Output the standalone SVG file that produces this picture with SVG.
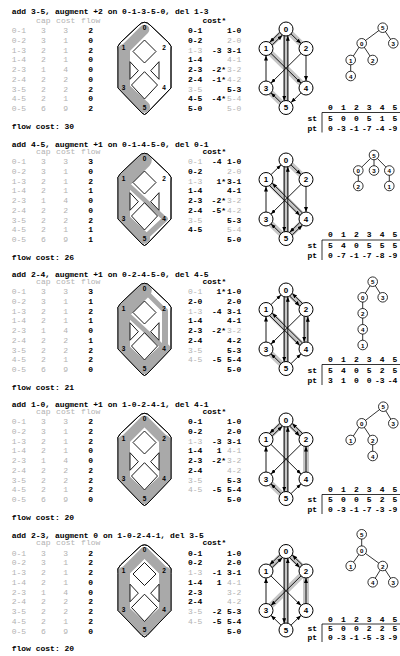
<svg xmlns="http://www.w3.org/2000/svg" xmlns:xlink="http://www.w3.org/1999/xlink" width="400" height="656" viewBox="0 0 400 656">
<style>
text{font-family:"Liberation Mono","Courier New",monospace;font-size:8px;font-weight:bold;fill:#000}
.g{fill:#b2b2b2;font-weight:normal}
.m{text-anchor:middle}
.e{text-anchor:end}
.nl{font-family:"Liberation Sans",Arial,sans-serif;font-weight:bold;text-anchor:middle;dominant-baseline:central}
.gn circle{fill:#fff;stroke:#000;stroke-width:1}
.gn text{font-size:8px}
.tn circle{fill:#fff;stroke:#000;stroke-width:.8}
.tn text{font-size:6.2px}
.hl{font-size:6.5px}
.ar{stroke:#000;stroke-width:.9;fill:none;marker-end:url(#ah)}
.tr{stroke:#c6c6c6;stroke-width:6}
.fl{stroke:#a9a9a9;fill:none;stroke-linecap:round}
.te{stroke:#000;stroke-width:.8}
.ln{stroke:#000;stroke-width:.8;fill:none}
.ho{fill:#fff;stroke:#000;stroke-width:.9}
.hn{fill:none;stroke:#000;stroke-width:.9}
</style>
<defs>
<marker id="ah" markerUnits="userSpaceOnUse" markerWidth="5" markerHeight="4" refX="5" refY="2" orient="auto"><path d="M0,0L5,2L0,4z" fill="#000"/></marker>
<path id="hexOuter" d="M144.5,23.3Q147.5,23.3 150,26L168.5,43.5Q172.5,47 171,52L171,89L147,114Q144.5,117 142,114L118,89L118,52Q116.5,47 120.5,43.5L139,26Q141.5,23.3 144.5,23.3Z"/>
<clipPath id="hexClip"><use href="#hexOuter"/></clipPath>
<path id="hexHoles" d="M144.5,41L156,52.5L144.5,64L133,52.5ZM130,62.7L138.3,71.7L130,80.3ZM159,62.7L150.7,71.7L159,80.3ZM144.5,72.7L157.5,86L144.5,100L131.5,86Z"/>
<g id="hexLabels">
<text class="nl hl" x="144.5" y="28.3">0</text><text class="nl hl" x="123.5" y="48.7">1</text><text class="nl hl" x="164" y="48.7">2</text><text class="nl hl" x="123.5" y="88.3">3</text><text class="nl hl" x="164" y="88.3">4</text><text class="nl hl" x="144.5" y="108.3">5</text>
</g>
<g id="tableFixed">
<text class="g m" x="43.3" y="23.7">cap</text><text class="g m" x="65.7" y="23.7">cost</text><text class="g m" x="90.7" y="23.7">flow</text>
<text class="g" x="11.7" y="34.2">0-1</text><text class="g m" x="43.3" y="34.2">3</text><text class="g m" x="65.7" y="34.2">3</text>
<text class="g" x="11.7" y="43.95">0-2</text><text class="g m" x="43.3" y="43.95">3</text><text class="g m" x="65.7" y="43.95">1</text>
<text class="g" x="11.7" y="53.7">1-3</text><text class="g m" x="43.3" y="53.7">2</text><text class="g m" x="65.7" y="53.7">1</text>
<text class="g" x="11.7" y="63.45">1-4</text><text class="g m" x="43.3" y="63.45">2</text><text class="g m" x="65.7" y="63.45">1</text>
<text class="g" x="11.7" y="73.2">2-3</text><text class="g m" x="43.3" y="73.2">1</text><text class="g m" x="65.7" y="73.2">4</text>
<text class="g" x="11.7" y="82.95">2-4</text><text class="g m" x="43.3" y="82.95">2</text><text class="g m" x="65.7" y="82.95">2</text>
<text class="g" x="11.7" y="92.7">3-5</text><text class="g m" x="43.3" y="92.7">2</text><text class="g m" x="65.7" y="92.7">2</text>
<text class="g" x="11.7" y="102.45">4-5</text><text class="g m" x="43.3" y="102.45">2</text><text class="g m" x="65.7" y="102.45">1</text>
<text class="g" x="11.7" y="112.2">0-5</text><text class="g m" x="43.3" y="112.2">6</text><text class="g m" x="65.7" y="112.2">9</text>
<text x="202.4" y="23.7">cost*</text>
</g>
</defs>

<!-- ================= PANEL 1 ================= -->
<g id="p1" transform="translate(0,-1)">
<text x="11.7" y="15.2">add 3-5, augment +2 on 0-1-3-5-0, del 1-3</text>
<use href="#tableFixed"/>
<text class="m" x="90.7" y="34.2">2</text><text class="m" x="90.7" y="43.95">0</text><text class="m" x="90.7" y="53.7">2</text><text class="m" x="90.7" y="63.45">0</text><text class="m" x="90.7" y="73.2">0</text><text class="m" x="90.7" y="82.95">0</text><text class="m" x="90.7" y="92.7">2</text><text class="m" x="90.7" y="102.45">0</text><text class="m" x="90.7" y="112.2">2</text>
<text x="11.7" y="129.7">flow cost: 30</text>
<g id="p1-pipes">
<use href="#hexOuter" class="ho"/>
<g clip-path="url(#hexClip)">
<path class="fl" stroke-width="9.7" d="M144.5,30.5L124,51"/>
<path class="fl" stroke-width="12" d="M124,51L124,89"/>
<path class="fl" stroke-width="11.3" d="M124,89L144.5,108"/>
</g>
<use href="#hexHoles" class="ho"/><use href="#hexOuter" class="hn"/><use href="#hexLabels"/>
</g>
<text x="188" y="34.2">0-1</text><text x="227" y="34.2">1-0</text>
<text x="188" y="43.95">0-2</text><text class="g" x="227" y="43.95">2-0</text>
<text class="g" x="188" y="53.7">1-3</text><text class="e" x="221.6" y="53.7">-3</text><text x="227" y="53.7">3-1</text>
<text x="188" y="63.45">1-4</text><text class="g" x="227" y="63.45">4-1</text>
<text x="188" y="73.2">2-3</text><text class="e" x="226" y="73.2">-2*</text><text class="g" x="227" y="73.2">3-2</text>
<text x="188" y="82.95">2-4</text><text class="e" x="226" y="82.95">-1*</text><text class="g" x="227" y="82.95">4-2</text>
<text class="g" x="188" y="92.7">3-5</text><text x="227" y="92.7">5-3</text>
<text x="188" y="102.45">4-5</text><text class="e" x="226" y="102.45">-4*</text><text class="g" x="227" y="102.45">5-4</text>
<text x="188" y="112.2">5-0</text><text class="g" x="227" y="112.2">5-0</text>
<g id="p1-arcs">
<path class="tr" d="M286,30V108.5M286,30L266,49.5M286,30L306,49.5M266,89L286,108.5M266,49.5L306,89"/>
<path class="ar" d="M279.73,33.6L269.75,43.32"/><path class="ar" d="M272.27,45.9L282.25,36.18"/>
<path class="ar" d="M291.01,34.89L300.99,44.61"/>
<path class="ar" d="M266,82L266,56.5"/>
<path class="ar" d="M270.98,54.42L301.02,84.08"/>
<path class="ar" d="M301.02,54.42L270.98,84.08"/>
<path class="ar" d="M306,56.5L306,82"/>
<path class="ar" d="M280.99,103.61L271.01,93.89"/>
<path class="ar" d="M300.99,93.89L291.01,103.61"/>
<path class="ar" d="M284.2,36.8L284.2,101.7"/><path class="ar" d="M287.8,101.7L287.8,36.8"/>
</g>
<g id="p1-g0" class="gn"><circle cx="286" cy="30" r="7"/><text class="nl" x="286" y="30">0</text></g>
<g id="p1-g1" class="gn"><circle cx="266" cy="49.5" r="7"/><text class="nl" x="266" y="49.5">1</text></g>
<g id="p1-g2" class="gn"><circle cx="306" cy="49.5" r="7"/><text class="nl" x="306" y="49.5">2</text></g>
<g id="p1-g3" class="gn"><circle cx="266" cy="89" r="7"/><text class="nl" x="266" y="89">3</text></g>
<g id="p1-g4" class="gn"><circle cx="306" cy="89" r="7"/><text class="nl" x="306" y="89">4</text></g>
<g id="p1-g5" class="gn"><circle cx="286" cy="108.5" r="7"/><text class="nl" x="286" y="108.5">5</text></g>
<g id="p1-tree-edges"><path class="te" d="M382.7,28.7L361.7,44.3M382.7,28.7L393.3,44.3M361.7,44.3L350.7,61M361.7,44.3L372.7,61M350.7,61L350.7,77"/></g>
<g id="p1-t5" class="tn"><circle cx="382.7" cy="28.7" r="4.8"/><text class="nl" x="382.7" y="28.7">5</text></g>
<g id="p1-t0" class="tn"><circle cx="361.7" cy="44.3" r="4.8"/><text class="nl" x="361.7" y="44.3">0</text></g>
<g id="p1-t3" class="tn"><circle cx="393.3" cy="44.3" r="4.8"/><text class="nl" x="393.3" y="44.3">3</text></g>
<g id="p1-t1" class="tn"><circle cx="350.7" cy="61" r="4.8"/><text class="nl" x="350.7" y="61">1</text></g>
<g id="p1-t2" class="tn"><circle cx="372.7" cy="61" r="4.8"/><text class="nl" x="372.7" y="61">2</text></g>
<g id="p1-t4" class="tn"><circle cx="350.7" cy="77" r="4.8"/><text class="nl" x="350.7" y="77">4</text></g>
<g id="p1-stpt">
<text class="m" x="330.5" y="110.7">0</text><text class="m" x="343.4" y="110.7">1</text><text class="m" x="356.3" y="110.7">2</text><text class="m" x="369.2" y="110.7">3</text><text class="m" x="382.1" y="110.7">4</text><text class="m" x="395" y="110.7">5</text>
<path class="ln" d="M322,113.5H400M322,113.5V133.5"/>
<text x="307.5" y="121.7">st</text><text class="e" x="332.9" y="121.7">5</text><text class="e" x="345.8" y="121.7">0</text><text class="e" x="358.7" y="121.7">0</text><text class="e" x="371.6" y="121.7">5</text><text class="e" x="384.5" y="121.7">1</text><text class="e" x="397.4" y="121.7">5</text>
<text x="307.5" y="131.7">pt</text><text class="e" x="332.9" y="131.7">0</text><text class="e" x="345.8" y="131.7">-3</text><text class="e" x="358.7" y="131.7">-1</text><text class="e" x="371.6" y="131.7">-7</text><text class="e" x="384.5" y="131.7">-4</text><text class="e" x="397.4" y="131.7">-9</text>
</g>
</g>

<!-- ================= PANEL 2 ================= -->
<g id="p2" transform="translate(0,130)">
<text x="11.7" y="16.7">add 4-5, augment +1 on 0-1-4-5-0, del 0-1</text>
<use href="#tableFixed"/>
<text class="m" x="90.7" y="34.2">3</text><text class="m" x="90.7" y="43.95">0</text><text class="m" x="90.7" y="53.7">2</text><text class="m" x="90.7" y="63.45">1</text><text class="m" x="90.7" y="73.2">0</text><text class="m" x="90.7" y="82.95">0</text><text class="m" x="90.7" y="92.7">2</text><text class="m" x="90.7" y="102.45">1</text><text class="m" x="90.7" y="112.2">1</text>
<text x="11.7" y="129.7">flow cost: 26</text>
<g id="p2-pipes">
<use href="#hexOuter" class="ho"/>
<g clip-path="url(#hexClip)">
<path class="fl" stroke-width="14.5" d="M144.5,30.5L124,51"/>
<path class="fl" stroke-width="12" d="M124,51L124,89"/>
<path class="fl" stroke-width="11.3" d="M124,89L144.5,108"/>
<path class="fl" stroke-width="4.65" d="M124,51L165,89"/>
<path class="fl" stroke-width="5.65" d="M165,89L144.5,108"/>
</g>
<use href="#hexHoles" class="ho"/><use href="#hexOuter" class="hn"/><use href="#hexLabels"/>
</g>
<text class="g" x="188" y="34.2">0-1</text><text class="e" x="221.6" y="34.2">-4</text><text x="227" y="34.2">1-0</text>
<text x="188" y="43.95">0-2</text><text class="g" x="227" y="43.95">2-0</text>
<text class="g" x="188" y="53.7">1-3</text><text class="e" x="226" y="53.7">1*</text><text x="227" y="53.7">3-1</text>
<text x="188" y="63.45">1-4</text><text x="227" y="63.45">4-1</text>
<text x="188" y="73.2">2-3</text><text class="e" x="226" y="73.2">-2*</text><text class="g" x="227" y="73.2">3-2</text>
<text x="188" y="82.95">2-4</text><text class="e" x="226" y="82.95">-5*</text><text class="g" x="227" y="82.95">4-2</text>
<text class="g" x="188" y="92.7">3-5</text><text x="227" y="92.7">5-3</text>
<text x="188" y="102.45">4-5</text><text class="g" x="227" y="102.45">5-4</text>
<text x="227" y="112.2">5-0</text>
<g id="p2-arcs">
<path class="tr" d="M286,30V108.5M286,30L306,49.5M266,89L286,108.5M266,49.5L306,89M306,89L286,108.5"/>
<path class="ar" d="M271.01,44.61L280.99,34.89"/>
<path class="ar" d="M291.01,34.89L300.99,44.61"/>
<path class="ar" d="M266,82L266,56.5"/>
<path class="ar" d="M269.72,55.7L299.76,85.36"/><path class="ar" d="M302.28,82.8L272.24,53.14"/>
<path class="ar" d="M301.02,54.42L270.98,84.08"/>
<path class="ar" d="M306,56.5L306,82"/>
<path class="ar" d="M280.99,103.61L271.01,93.89"/>
<path class="ar" d="M299.73,92.6L289.75,102.32"/><path class="ar" d="M292.27,104.9L302.25,95.18"/>
<path class="ar" d="M284.2,36.8L284.2,101.7"/><path class="ar" d="M287.8,101.7L287.8,36.8"/>
</g>
<g id="p2-g0" class="gn"><circle cx="286" cy="30" r="7"/><text class="nl" x="286" y="30">0</text></g>
<g id="p2-g1" class="gn"><circle cx="266" cy="49.5" r="7"/><text class="nl" x="266" y="49.5">1</text></g>
<g id="p2-g2" class="gn"><circle cx="306" cy="49.5" r="7"/><text class="nl" x="306" y="49.5">2</text></g>
<g id="p2-g3" class="gn"><circle cx="266" cy="89" r="7"/><text class="nl" x="266" y="89">3</text></g>
<g id="p2-g4" class="gn"><circle cx="306" cy="89" r="7"/><text class="nl" x="306" y="89">4</text></g>
<g id="p2-g5" class="gn"><circle cx="286" cy="108.5" r="7"/><text class="nl" x="286" y="108.5">5</text></g>
<g id="p2-tree-edges"><path class="te" d="M374,25L358.3,40.5M374,25L374,40.5M374,25L389.3,40.5M358.3,40.5L358.3,56M389.3,40.5L389.3,56"/></g>
<g id="p2-t5" class="tn"><circle cx="374" cy="25" r="4.8"/><text class="nl" x="374" y="25">5</text></g>
<g id="p2-t0" class="tn"><circle cx="358.3" cy="40.5" r="4.8"/><text class="nl" x="358.3" y="40.5">0</text></g>
<g id="p2-t3" class="tn"><circle cx="374" cy="40.5" r="4.8"/><text class="nl" x="374" y="40.5">3</text></g>
<g id="p2-t4" class="tn"><circle cx="389.3" cy="40.5" r="4.8"/><text class="nl" x="389.3" y="40.5">4</text></g>
<g id="p2-t2" class="tn"><circle cx="358.3" cy="56" r="4.8"/><text class="nl" x="358.3" y="56">2</text></g>
<g id="p2-t1" class="tn"><circle cx="389.3" cy="56" r="4.8"/><text class="nl" x="389.3" y="56">1</text></g>
<g id="p2-stpt">
<text class="m" x="330.5" y="107.2">0</text><text class="m" x="343.4" y="107.2">1</text><text class="m" x="356.3" y="107.2">2</text><text class="m" x="369.2" y="107.2">3</text><text class="m" x="382.1" y="107.2">4</text><text class="m" x="395" y="107.2">5</text>
<path class="ln" d="M322,110H400M322,110V130"/>
<text x="307.5" y="118.2">st</text><text class="e" x="332.9" y="118.2">5</text><text class="e" x="345.8" y="118.2">4</text><text class="e" x="358.7" y="118.2">0</text><text class="e" x="371.6" y="118.2">5</text><text class="e" x="384.5" y="118.2">5</text><text class="e" x="397.4" y="118.2">5</text>
<text x="307.5" y="128.2">pt</text><text class="e" x="332.9" y="128.2">0</text><text class="e" x="345.8" y="128.2">-7</text><text class="e" x="358.7" y="128.2">-1</text><text class="e" x="371.6" y="128.2">-7</text><text class="e" x="384.5" y="128.2">-8</text><text class="e" x="397.4" y="128.2">-9</text>
</g>
</g>

<!-- ================= PANEL 3 ================= -->
<g id="p3" transform="translate(0,260)">
<text x="11.7" y="16.7">add 2-4, augment +1 on 0-2-4-5-0, del 4-5</text>
<use href="#tableFixed"/>
<text class="m" x="90.7" y="34.2">3</text><text class="m" x="90.7" y="43.95">1</text><text class="m" x="90.7" y="53.7">2</text><text class="m" x="90.7" y="63.45">1</text><text class="m" x="90.7" y="73.2">0</text><text class="m" x="90.7" y="82.95">1</text><text class="m" x="90.7" y="92.7">2</text><text class="m" x="90.7" y="102.45">2</text><text class="m" x="90.7" y="112.2">0</text>
<text x="11.7" y="129.7">flow cost: 21</text>
<g id="p3-pipes">
<use href="#hexOuter" class="ho"/>
<g clip-path="url(#hexClip)">
<path class="fl" stroke-width="14.5" d="M144.5,30.5L124,51"/>
<path class="fl" stroke-width="4.8" d="M144.5,30.5L165,51"/>
<path class="fl" stroke-width="12" d="M124,51L124,89"/>
<path class="fl" stroke-width="4.65" d="M124,51L165,89"/>
<path class="fl" stroke-width="6" d="M165,51L165,89"/>
<path class="fl" stroke-width="11.3" d="M124,89L144.5,108"/>
<path class="fl" stroke-width="11.3" d="M165,89L144.5,108"/>
</g>
<use href="#hexHoles" class="ho"/><use href="#hexOuter" class="hn"/><use href="#hexLabels"/>
</g>
<text class="g" x="188" y="34.2">0-1</text><text class="e" x="226" y="34.2">1*</text><text x="227" y="34.2">1-0</text>
<text x="188" y="43.95">2-0</text><text x="227" y="43.95">2-0</text>
<text class="g" x="188" y="53.7">1-3</text><text class="e" x="221.6" y="53.7">-4</text><text x="227" y="53.7">3-1</text>
<text x="188" y="63.45">1-4</text><text x="227" y="63.45">4-1</text>
<text x="188" y="73.2">2-3</text><text class="e" x="226" y="73.2">-2*</text><text class="g" x="227" y="73.2">3-2</text>
<text x="188" y="82.95">2-4</text><text x="227" y="82.95">4-2</text>
<text class="g" x="188" y="92.7">3-5</text><text x="227" y="92.7">5-3</text>
<text class="g" x="188" y="102.45">4-5</text><text class="e" x="221.6" y="102.45">-5</text><text x="227" y="102.45">5-4</text>
<text x="227" y="112.2">5-0</text>
<g id="p3-arcs">
<path class="tr" d="M286,30V108.5M286,30L306,49.5M266,89L286,108.5M266,49.5L306,89M306,49.5L306,89"/>
<path class="ar" d="M271.01,44.61L280.99,34.89"/>
<path class="ar" d="M289.75,36.18L299.73,45.9"/><path class="ar" d="M302.25,43.32L292.27,33.6"/>
<path class="ar" d="M266,82L266,56.5"/>
<path class="ar" d="M269.72,55.7L299.76,85.36"/><path class="ar" d="M302.28,82.8L272.24,53.14"/>
<path class="ar" d="M301.02,54.42L270.98,84.08"/>
<path class="ar" d="M304.2,56.7L304.2,81.8"/><path class="ar" d="M307.8,81.8L307.8,56.7"/>
<path class="ar" d="M280.99,103.61L271.01,93.89"/>
<path class="ar" d="M291.01,103.61L300.99,93.89"/>
<path class="ar" d="M284.2,36.8L284.2,101.7"/><path class="ar" d="M287.8,101.7L287.8,36.8"/>
</g>
<g id="p3-g0" class="gn"><circle cx="286" cy="30" r="7"/><text class="nl" x="286" y="30">0</text></g>
<g id="p3-g1" class="gn"><circle cx="266" cy="49.5" r="7"/><text class="nl" x="266" y="49.5">1</text></g>
<g id="p3-g2" class="gn"><circle cx="306" cy="49.5" r="7"/><text class="nl" x="306" y="49.5">2</text></g>
<g id="p3-g3" class="gn"><circle cx="266" cy="89" r="7"/><text class="nl" x="266" y="89">3</text></g>
<g id="p3-g4" class="gn"><circle cx="306" cy="89" r="7"/><text class="nl" x="306" y="89">4</text></g>
<g id="p3-g5" class="gn"><circle cx="286" cy="108.5" r="7"/><text class="nl" x="286" y="108.5">5</text></g>
<g id="p3-tree-edges"><path class="te" d="M372.7,21.7L362.7,37.3M372.7,21.7L382.7,37.3M362.7,37.3L362.7,85"/></g>
<g id="p3-t5" class="tn"><circle cx="372.7" cy="21.7" r="4.8"/><text class="nl" x="372.7" y="21.7">5</text></g>
<g id="p3-t0" class="tn"><circle cx="362.7" cy="37.3" r="4.8"/><text class="nl" x="362.7" y="37.3">0</text></g>
<g id="p3-t3" class="tn"><circle cx="382.7" cy="37.3" r="4.8"/><text class="nl" x="382.7" y="37.3">3</text></g>
<g id="p3-t2" class="tn"><circle cx="362.7" cy="53.3" r="4.8"/><text class="nl" x="362.7" y="53.3">2</text></g>
<g id="p3-t4" class="tn"><circle cx="362.7" cy="69.3" r="4.8"/><text class="nl" x="362.7" y="69.3">4</text></g>
<g id="p3-t1" class="tn"><circle cx="362.7" cy="85" r="4.8"/><text class="nl" x="362.7" y="85">1</text></g>
<g id="p3-stpt">
<text class="m" x="330.5" y="101.7">0</text><text class="m" x="343.4" y="101.7">1</text><text class="m" x="356.3" y="101.7">2</text><text class="m" x="369.2" y="101.7">3</text><text class="m" x="382.1" y="101.7">4</text><text class="m" x="395" y="101.7">5</text>
<path class="ln" d="M322,104.5H400M322,104.5V125"/>
<text x="307.5" y="113.2">st</text><text class="e" x="332.9" y="113.2">5</text><text class="e" x="345.8" y="113.2">4</text><text class="e" x="358.7" y="113.2">0</text><text class="e" x="371.6" y="113.2">5</text><text class="e" x="384.5" y="113.2">2</text><text class="e" x="397.4" y="113.2">5</text>
<text x="307.5" y="123.2">pt</text><text class="e" x="332.9" y="123.2">3</text><text class="e" x="345.8" y="123.2">1</text><text class="e" x="358.7" y="123.2">0</text><text class="e" x="371.6" y="123.2">0</text><text class="e" x="384.5" y="123.2">-3</text><text class="e" x="397.4" y="123.2">-4</text>
</g>
</g>

<!-- ================= PANEL 4 ================= -->
<g id="p4" transform="translate(0,390)">
<text x="11.7" y="16.7">add 1-0, augment +1 on 1-0-2-4-1, del 4-1</text>
<use href="#tableFixed"/>
<text class="m" x="90.7" y="34.2">2</text><text class="m" x="90.7" y="43.95">2</text><text class="m" x="90.7" y="53.7">2</text><text class="m" x="90.7" y="63.45">0</text><text class="m" x="90.7" y="73.2">0</text><text class="m" x="90.7" y="82.95">2</text><text class="m" x="90.7" y="92.7">2</text><text class="m" x="90.7" y="102.45">2</text><text class="m" x="90.7" y="112.2">0</text>
<text x="11.7" y="129.7">flow cost: 20</text>
<g id="p4-pipes">
<use href="#hexOuter" class="ho"/>
<g clip-path="url(#hexClip)">
<path class="fl" stroke-width="9.7" d="M144.5,30.5L124,51"/>
<path class="fl" stroke-width="9.7" d="M144.5,30.5L165,51"/>
<path class="fl" stroke-width="12" d="M124,51L124,89"/>
<path class="fl" stroke-width="12" d="M165,51L165,89"/>
<path class="fl" stroke-width="11.3" d="M124,89L144.5,108"/>
<path class="fl" stroke-width="11.3" d="M165,89L144.5,108"/>
</g>
<use href="#hexHoles" class="ho"/><use href="#hexOuter" class="hn"/><use href="#hexLabels"/>
</g>
<text x="188" y="34.2">0-1</text><text x="227" y="34.2">1-0</text>
<text x="188" y="43.95">0-2</text><text x="227" y="43.95">2-0</text>
<text class="g" x="188" y="53.7">1-3</text><text class="e" x="221.6" y="53.7">-3</text><text x="227" y="53.7">3-1</text>
<text x="188" y="63.45">1-4</text><text class="e" x="221.6" y="63.45">1</text><text class="g" x="227" y="63.45">4-1</text>
<text x="188" y="73.2">2-3</text><text class="e" x="226" y="73.2">-2*</text><text class="g" x="227" y="73.2">3-2</text>
<text x="188" y="82.95">2-4</text><text class="g" x="227" y="82.95">4-2</text>
<text class="g" x="188" y="92.7">3-5</text><text x="227" y="92.7">5-3</text>
<text class="g" x="188" y="102.45">4-5</text><text class="e" x="221.6" y="102.45">-5</text><text x="227" y="102.45">5-4</text>
<text x="227" y="112.2">5-0</text>
<g id="p4-arcs">
<path class="tr" d="M286,30V108.5M286,30L266,49.5M286,30L306,49.5M266,89L286,108.5M306,49.5L306,89"/>
<path class="ar" d="M279.73,33.6L269.75,43.32"/><path class="ar" d="M272.27,45.9L282.25,36.18"/>
<path class="ar" d="M289.75,36.18L299.73,45.9"/><path class="ar" d="M302.25,43.32L292.27,33.6"/>
<path class="ar" d="M266,82L266,56.5"/>
<path class="ar" d="M270.98,54.42L301.02,84.08"/>
<path class="ar" d="M301.02,54.42L270.98,84.08"/>
<path class="ar" d="M306,82L306,56.5"/>
<path class="ar" d="M280.99,103.61L271.01,93.89"/>
<path class="ar" d="M291.01,103.61L300.99,93.89"/>
<path class="ar" d="M284.2,36.8L284.2,101.7"/><path class="ar" d="M287.8,101.7L287.8,36.8"/>
</g>
<g id="p4-g0" class="gn"><circle cx="286" cy="30" r="7"/><text class="nl" x="286" y="30">0</text></g>
<g id="p4-g1" class="gn"><circle cx="266" cy="49.5" r="7"/><text class="nl" x="266" y="49.5">1</text></g>
<g id="p4-g2" class="gn"><circle cx="306" cy="49.5" r="7"/><text class="nl" x="306" y="49.5">2</text></g>
<g id="p4-g3" class="gn"><circle cx="266" cy="89" r="7"/><text class="nl" x="266" y="89">3</text></g>
<g id="p4-g4" class="gn"><circle cx="306" cy="89" r="7"/><text class="nl" x="306" y="89">4</text></g>
<g id="p4-g5" class="gn"><circle cx="286" cy="108.5" r="7"/><text class="nl" x="286" y="108.5">5</text></g>
<g id="p4-tree-edges"><path class="te" d="M383.3,16.7L361.7,33.3M383.3,16.7L393.3,33.3M361.7,33.3L350.7,50M361.7,33.3L372.7,50M372.7,50L372.7,66"/></g>
<g id="p4-t5" class="tn"><circle cx="383.3" cy="16.7" r="4.8"/><text class="nl" x="383.3" y="16.7">5</text></g>
<g id="p4-t0" class="tn"><circle cx="361.7" cy="33.3" r="4.8"/><text class="nl" x="361.7" y="33.3">0</text></g>
<g id="p4-t3" class="tn"><circle cx="393.3" cy="33.3" r="4.8"/><text class="nl" x="393.3" y="33.3">3</text></g>
<g id="p4-t1" class="tn"><circle cx="350.7" cy="50" r="4.8"/><text class="nl" x="350.7" y="50">1</text></g>
<g id="p4-t2" class="tn"><circle cx="372.7" cy="50" r="4.8"/><text class="nl" x="372.7" y="50">2</text></g>
<g id="p4-t4" class="tn"><circle cx="372.7" cy="66" r="4.8"/><text class="nl" x="372.7" y="66">4</text></g>
<g id="p4-stpt">
<text class="m" x="330.5" y="101.7">0</text><text class="m" x="343.4" y="101.7">1</text><text class="m" x="356.3" y="101.7">2</text><text class="m" x="369.2" y="101.7">3</text><text class="m" x="382.1" y="101.7">4</text><text class="m" x="395" y="101.7">5</text>
<path class="ln" d="M322,104.5H400M322,104.5V124"/>
<text x="307.5" y="112.2">st</text><text class="e" x="332.9" y="112.2">5</text><text class="e" x="345.8" y="112.2">0</text><text class="e" x="358.7" y="112.2">0</text><text class="e" x="371.6" y="112.2">5</text><text class="e" x="384.5" y="112.2">2</text><text class="e" x="397.4" y="112.2">5</text>
<text x="307.5" y="122.2">pt</text><text class="e" x="332.9" y="122.2">0</text><text class="e" x="345.8" y="122.2">-3</text><text class="e" x="358.7" y="122.2">-1</text><text class="e" x="371.6" y="122.2">-7</text><text class="e" x="384.5" y="122.2">-3</text><text class="e" x="397.4" y="122.2">-9</text>
</g>
</g>

<!-- ================= PANEL 5 ================= -->
<g id="p5" transform="translate(0,521.5)">
<text x="11.7" y="16.7">add 2-3, augment 0 on 1-0-2-4-1, del 3-5</text>
<use href="#tableFixed"/>
<text class="m" x="90.7" y="34.2">2</text><text class="m" x="90.7" y="43.95">2</text><text class="m" x="90.7" y="53.7">2</text><text class="m" x="90.7" y="63.45">0</text><text class="m" x="90.7" y="73.2">0</text><text class="m" x="90.7" y="82.95">2</text><text class="m" x="90.7" y="92.7">2</text><text class="m" x="90.7" y="102.45">2</text><text class="m" x="90.7" y="112.2">0</text>
<text x="11.7" y="129.7">flow cost: 20</text>
<g id="p5-pipes">
<use href="#hexOuter" class="ho"/>
<g clip-path="url(#hexClip)">
<path class="fl" stroke-width="9.7" d="M144.5,30.5L124,51"/>
<path class="fl" stroke-width="9.7" d="M144.5,30.5L165,51"/>
<path class="fl" stroke-width="12" d="M124,51L124,89"/>
<path class="fl" stroke-width="12" d="M165,51L165,89"/>
<path class="fl" stroke-width="11.3" d="M124,89L144.5,108"/>
<path class="fl" stroke-width="11.3" d="M165,89L144.5,108"/>
</g>
<use href="#hexHoles" class="ho"/><use href="#hexOuter" class="hn"/><use href="#hexLabels"/>
</g>
<text x="188" y="34.2">0-1</text><text x="227" y="34.2">1-0</text>
<text x="188" y="43.95">0-2</text><text x="227" y="43.95">2-0</text>
<text class="g" x="188" y="53.7">1-3</text><text class="e" x="221.6" y="53.7">-1</text><text x="227" y="53.7">3-1</text>
<text x="188" y="63.45">1-4</text><text class="e" x="221.6" y="63.45">1</text><text class="g" x="227" y="63.45">4-1</text>
<text x="188" y="73.2">2-3</text><text class="g" x="227" y="73.2">3-2</text>
<text x="188" y="82.95">2-4</text><text class="g" x="227" y="82.95">4-2</text>
<text class="g" x="188" y="92.7">3-5</text><text class="e" x="221.6" y="92.7">-2</text><text x="227" y="92.7">5-3</text>
<text class="g" x="188" y="102.45">4-5</text><text class="e" x="221.6" y="102.45">-5</text><text x="227" y="102.45">5-4</text>
<text x="227" y="112.2">5-0</text>
<g id="p5-arcs">
<path class="tr" d="M286,30V108.5M286,30L266,49.5M286,30L306,49.5M306,49.5L266,89M306,49.5L306,89"/>
<path class="ar" d="M279.73,33.6L269.75,43.32"/><path class="ar" d="M272.27,45.9L282.25,36.18"/>
<path class="ar" d="M289.75,36.18L299.73,45.9"/><path class="ar" d="M302.25,43.32L292.27,33.6"/>
<path class="ar" d="M266,82L266,56.5"/>
<path class="ar" d="M270.98,54.42L301.02,84.08"/>
<path class="ar" d="M301.02,54.42L270.98,84.08"/>
<path class="ar" d="M306,82L306,56.5"/>
<path class="ar" d="M280.99,103.61L271.01,93.89"/>
<path class="ar" d="M291.01,103.61L300.99,93.89"/>
<path class="ar" d="M284.2,36.8L284.2,101.7"/><path class="ar" d="M287.8,101.7L287.8,36.8"/>
</g>
<g id="p5-g0" class="gn"><circle cx="286" cy="30" r="7"/><text class="nl" x="286" y="30">0</text></g>
<g id="p5-g1" class="gn"><circle cx="266" cy="49.5" r="7"/><text class="nl" x="266" y="49.5">1</text></g>
<g id="p5-g2" class="gn"><circle cx="306" cy="49.5" r="7"/><text class="nl" x="306" y="49.5">2</text></g>
<g id="p5-g3" class="gn"><circle cx="266" cy="89" r="7"/><text class="nl" x="266" y="89">3</text></g>
<g id="p5-g4" class="gn"><circle cx="306" cy="89" r="7"/><text class="nl" x="306" y="89">4</text></g>
<g id="p5-g5" class="gn"><circle cx="286" cy="108.5" r="7"/><text class="nl" x="286" y="108.5">5</text></g>
<g id="p5-tree-edges"><path class="te" d="M361.7,12.8L361.7,29.2M361.7,29.2L350.7,44.5M361.7,29.2L382.7,44.5M382.7,44.5L372.7,60.8M382.7,44.5L393.3,60.8"/></g>
<g id="p5-t5" class="tn"><circle cx="361.7" cy="12.8" r="4.8"/><text class="nl" x="361.7" y="12.8">5</text></g>
<g id="p5-t0" class="tn"><circle cx="361.7" cy="29.2" r="4.8"/><text class="nl" x="361.7" y="29.2">0</text></g>
<g id="p5-t1" class="tn"><circle cx="350.7" cy="44.5" r="4.8"/><text class="nl" x="350.7" y="44.5">1</text></g>
<g id="p5-t2" class="tn"><circle cx="382.7" cy="44.5" r="4.8"/><text class="nl" x="382.7" y="44.5">2</text></g>
<g id="p5-t4" class="tn"><circle cx="372.7" cy="60.8" r="4.8"/><text class="nl" x="372.7" y="60.8">4</text></g>
<g id="p5-t3" class="tn"><circle cx="393.3" cy="60.8" r="4.8"/><text class="nl" x="393.3" y="60.8">3</text></g>
<g id="p5-stpt">
<text class="m" x="330.5" y="100.2">0</text><text class="m" x="343.4" y="100.2">1</text><text class="m" x="356.3" y="100.2">2</text><text class="m" x="369.2" y="100.2">3</text><text class="m" x="382.1" y="100.2">4</text><text class="m" x="395" y="100.2">5</text>
<path class="ln" d="M322,102.5H400M322,102.5V120.5"/>
<text x="307.5" y="109.7">st</text><text class="e" x="332.9" y="109.7">5</text><text class="e" x="345.8" y="109.7">0</text><text class="e" x="358.7" y="109.7">0</text><text class="e" x="371.6" y="109.7">2</text><text class="e" x="384.5" y="109.7">2</text><text class="e" x="397.4" y="109.7">5</text>
<text x="307.5" y="118.7">pt</text><text class="e" x="332.9" y="118.7">0</text><text class="e" x="345.8" y="118.7">-3</text><text class="e" x="358.7" y="118.7">-1</text><text class="e" x="371.6" y="118.7">-5</text><text class="e" x="384.5" y="118.7">-3</text><text class="e" x="397.4" y="118.7">-9</text>
</g>
</g>
</svg>
